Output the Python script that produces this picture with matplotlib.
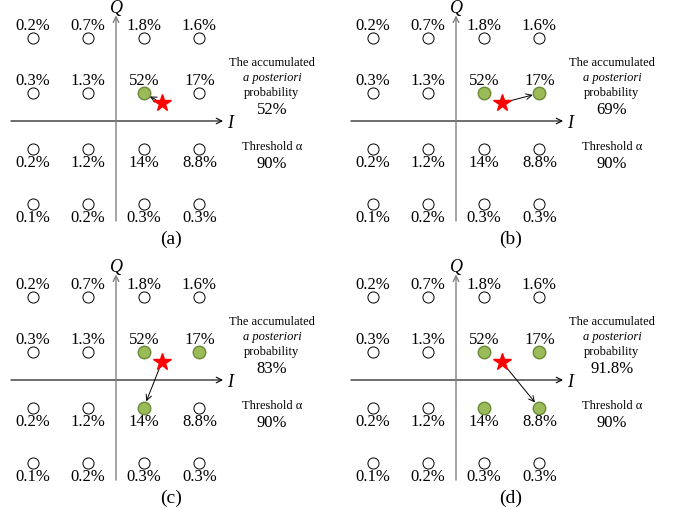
import numpy as np
import matplotlib.pyplot as plt

plt.rcParams['font.family'] = ['Liberation Serif', 'DejaVu Serif']

# constellacion 16-QAM, filas de arriba a abajo
I_pts = [-3, -1, 1, 3]
Q_pts = [3, 1, -1, -3]
probs = [["0.2%", "0.7%", "1.8%", "1.6%"],
         ["0.3%", "1.3%", "52%", "17%"],
         ["0.2%", "1.2%", "14%", "8.8%"],
         ["0.1%", "0.2%", "0.3%", "0.3%"]]

star = (1.65, 0.65)
# puntos seleccionados en cada paso (a)-(d)
selected = [[(1, 1)],
            [(1, 1), (3, 1)],
            [(1, 1), (3, 1), (1, -1)],
            [(1, 1), (3, 1), (1, -1), (3, -1)]]
accum = ["52%", "69%", "83%", "91.8%"]
threshold = "90%"
panel_labels = ["(a)", "(b)", "(c)", "(d)"]

W, H = 681, 510
u = 27.8  # pixeles por unidad
origins = [(116, 122), (456, 122), (116, 381), (456, 381)]

fig = plt.figure(figsize=(6.81, 5.10), dpi=100)

for k in range(4):
    ox, oy = origins[k]
    x0, x1 = -116, 224
    y0, y1 = -133, 122
    ax = fig.add_axes([(ox + x0) / W, 1 - (oy - y0) / H, (x1 - x0) / W, (y1 - y0) / H])
    ax.set_xlim(x0 / u, x1 / u)
    ax.set_ylim(y0 / u, y1 / u)
    ax.axis('off')

    # ejes I / Q
    ax.annotate("", xy=(3.85, 0), xytext=(-3.78, 0),
                arrowprops=dict(arrowstyle='->', color='black', lw=0.8, shrinkA=0, shrinkB=0))
    ax.annotate("", xy=(0, 3.8), xytext=(0, -3.6),
                arrowprops=dict(arrowstyle='->', color='#808080', lw=1.0, shrinkA=0, shrinkB=0))
    ax.text(0.03, 4.08, "Q", style='italic', fontsize=13, ha='center', va='center')
    ax.text(4.12, -0.07, "I", style='italic', fontsize=13, ha='center', va='center')

    for r, q in enumerate(Q_pts):
        for c, i in enumerate(I_pts):
            if (i, q) in selected[k]:
                ax.plot(i, q, 'o', ms=9, mfc='#9BBB59', mec='#6B8A36', mew=1.0, zorder=3)
            else:
                ax.plot(i, q, 'o', ms=8, mfc='white', mec='black', mew=0.7, zorder=3)
            dy = 0.47 if q > 0 else -0.47
            ax.text(i, q + dy, probs[r][c], fontsize=12, ha='center', va='center')

    # flecha desde el simbolo recibido
    target = selected[k][-1]
    ax.annotate("", xy=target, xytext=star,
                arrowprops=dict(arrowstyle='->', color='black', lw=0.7, shrinkA=5, shrinkB=5))
    ax.plot(star[0], star[1], '*', ms=13, color='red', mec='red', zorder=4)

    ax.text(5.61, 2.12, "The accumulated", fontsize=9, ha='center', va='center')
    ax.text(5.61, 1.6, "a posteriori", fontsize=9, style='italic', ha='center', va='center')
    ax.text(5.61, 1.04, "probability", fontsize=9, ha='center', va='center')
    ax.text(5.61, 0.43, accum[k], fontsize=12, ha='center', va='center')
    ax.text(5.61, -0.9, "Threshold α", fontsize=9, ha='center', va='center')
    ax.text(5.61, -1.51, threshold, fontsize=12, ha='center', va='center')
    ax.text(1.97, -4.22, panel_labels[k], fontsize=14, ha='center', va='center')

fig.savefig("out.png", dpi=100)
